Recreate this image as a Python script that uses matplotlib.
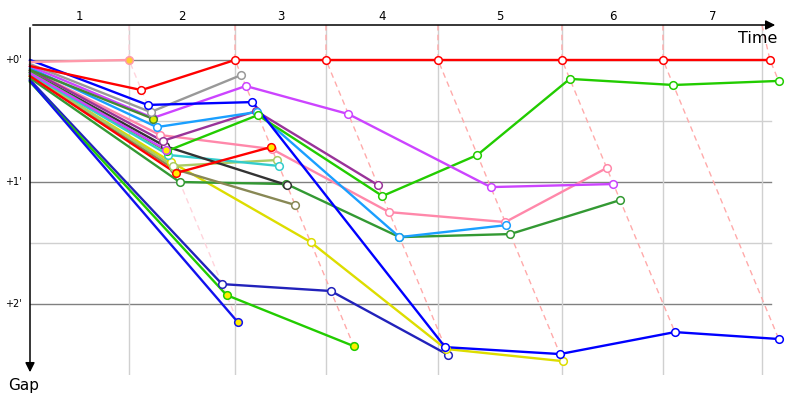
import matplotlib
matplotlib.use('Agg')
import matplotlib.pyplot as plt

# leader crossing time of each lap (s) and position of the lap grid lines
lap_ref = [117.3, 242.9, 350.7, 483.4, 630.3, 750.0, 876.8]
lap_grid = [117.3, 242.9, 350.7, 483.4, 630.3, 750.0, 867.3]
lap_labels = ['1', '2', '3', '4', '5', '6', '7']
gap_ticks = [0, 60, 120]
gap_tick_labels = ["+0'", "+1'", "+2'"]
half_ticks = [30, 90]

# gap to leader in seconds: first value at the start, then after each lap
gap_pink1 = [1.0, 0.0]
gap_red = [3.0, 14.8, 0.0, 0.0, 0.0, 0.0, 0.0, 0.0]
gap_blue = [0.0, 22.1, 20.7, 141.2, 144.6, 133.8, 137.2]
gap_gray = [2.0, 25.6, 7.4]
gap_violet = [3.0, 28.5, 12.8, 26.6, 62.5, 61.0]
gap_dkgreen = [4.9, 29.0]
gap_skyblue = [3.9, 33.0, 25.6, 87.1, 81.2]
gap_pink = [4.9, 36.9, 43.8, 74.8, 79.7, 53.1]
gap_purple = [4.9, 39.8, 25.1, 61.5]
gap_dkgray = [5.9, 42.3, 61.5]
gap_violet2 = [6.4, 44.3]
gap_green = [5.9, 44.8, 27.1, 66.9, 46.7, 9.3, 12.3, 10.3]
gap_cyan = [6.9, 46.7, 52.1]
gap_yellow = [7.4, 50.2, 89.5, 142.1, 148.1]
gap_ygreen = [6.9, 52.1, 49.2]
gap_olive = [7.9, 53.6, 71.3]
gap_red2 = [7.9, 55.6, 42.8]
gap_fgreen = [8.9, 60.0, 61.0, 87.1, 85.6, 68.9]
gap_navy = [9.8, 110.2, 113.6, 145.1]
gap_green2 = [10.8, 115.6, 140.7]
gap_blue2 = [10.3, 128.9]

# (gaps, line colour, marker fill)
cars = [
    (gap_navy, '#2222bb', 'white'),
    (gap_green2, '#22cc00', '#ffee00'),
    (gap_blue2, '#1111ee', '#ffee00'),
    (gap_yellow, '#dddd00', 'white'),
    (gap_fgreen, '#339933', 'white'),
    (gap_olive, '#888855', 'white'),
    (gap_ygreen, '#aacc66', 'white'),
    (gap_cyan, '#33cccc', 'white'),
    (gap_dkgray, '#333333', 'white'),
    (gap_pink, '#ff88aa', 'white'),
    (gap_purple, '#993399', 'white'),
    (gap_skyblue, '#1a9fff', 'white'),
    (gap_green, '#22cc00', 'white'),
    (gap_violet2, '#cc44ff', '#ffee00'),
    (gap_red2, '#ff0000', '#ffee00'),
    (gap_violet, '#cc44ff', 'white'),
    (gap_dkgreen, '#448833', '#ddee00'),
    (gap_gray, '#999999', 'white'),
    (gap_blue, '#0000ff', 'white'),
    (gap_red, '#ff0000', 'white'),
    (gap_pink1, '#ff99aa', '#ffcc33'),
]

fig = plt.figure(figsize=(8, 4), dpi=100)
ax = fig.add_axes([30 / 800, 25 / 400, 748 / 800, 350 / 400])
ax.set_xlim(0, 886.3)
ax.set_ylim(154.9, -17.2)
ax.axis('off')

right = 878
for g in half_ticks:
    ax.plot([0, right], [g, g], color='#d0d0d0', lw=1, zorder=1)
for g in gap_ticks:
    ax.plot([0, right], [g, g], color='#808080', lw=1, zorder=1)
for t in lap_grid:
    ax.plot([t, t], [154.9, -17.2], color='#d0d0d0', lw=1, zorder=1)

# lap lines: every car crossing lap k sits on x = leader time + gap
for k in range(len(lap_ref)):
    gmax = max(c[0][k + 1] for c in cars if len(c[0]) > k + 1)
    col = '#ffd4dc' if k == 0 else '#ffaaaa'
    ax.plot([lap_grid[k], lap_ref[k], lap_ref[k] + gmax], [-17.2, 0, gmax],
            color=col, lw=1, ls=(0, (4, 3)), zorder=2, clip_on=False)

for gaps, col, fill in cars:
    xs = [0] + [lap_ref[i] + g for i, g in enumerate(gaps[1:])]
    ax.plot(xs, gaps, color=col, lw=1.7, zorder=3, clip_on=False)
    ax.plot(xs[1:], gaps[1:], ls='none', marker='o', ms=5.5, mew=1.1,
            mfc=fill, mec=col, zorder=4, clip_on=False)

# axis labels and arrows
for i, lab in enumerate(lap_labels):
    left = 0 if i == 0 else lap_grid[i - 1]
    ax.text((left + lap_grid[i]) / 2, 1.023, lab, transform=ax.get_xaxis_transform(),
            ha='center', va='center', fontsize=8.5)
for g, lab in zip(gap_ticks, gap_tick_labels):
    ax.text(-0.011, g, lab, transform=ax.get_yaxis_transform(),
            ha='right', va='center', fontsize=7)

ax.annotate('', xy=(1.0, 1.0), xytext=(0, 1.0), xycoords='axes fraction',
            arrowprops=dict(arrowstyle='-|>', color='black', lw=1.1, mutation_scale=14))
ax.annotate('', xy=(0, 0.0), xytext=(0, 1.0), xycoords='axes fraction',
            arrowprops=dict(arrowstyle='-|>', color='black', lw=1.1, mutation_scale=14))
ax.text(0.999, 0.962, 'Time', transform=ax.transAxes, ha='right', va='center', fontsize=11.5)
ax.text(-0.008, -0.03, 'Gap', transform=ax.transAxes, ha='center', va='center', fontsize=11)

fig.savefig('out.png', dpi=100)
